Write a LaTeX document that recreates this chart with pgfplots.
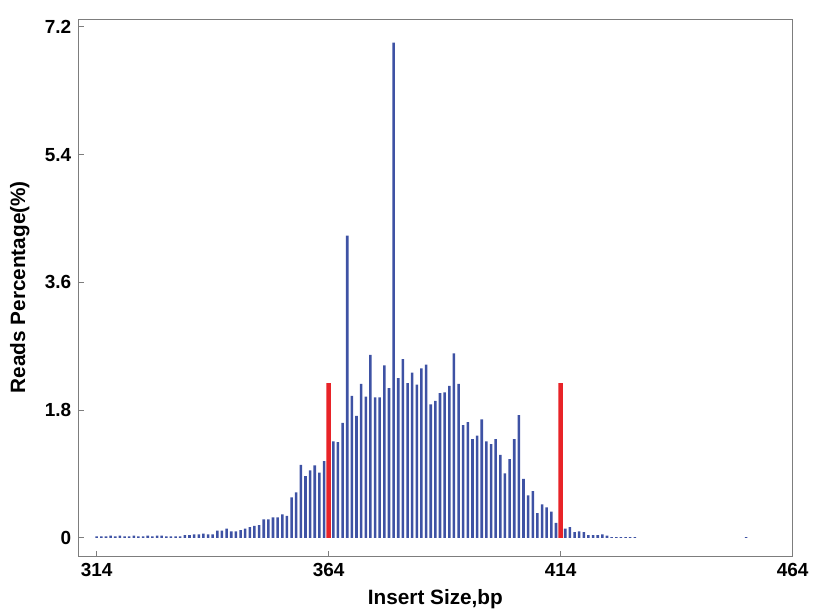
\documentclass[border=0pt]{standalone}
\usepackage{pgfplots}
\pgfplotsset{compat=1.18}
\usepackage{pgfplotstable}
\usepackage{fontspec}
\setmainfont{Liberation Sans}
\definecolor{barblue}{RGB}{62,82,164}
\definecolor{barred}{RGB}{232,35,40}
\definecolor{framegray}{RGB}{125,125,125}

% insert size (bp) vs reads percentage
\pgfplotstableread{
x y
314 0.02
315 0.02
316 0.02
317 0.03
318 0.02
319 0.03
320 0.02
321 0.02
322 0.03
323 0.02
324 0.02
325 0.03
326 0.02
327 0.03
328 0.03
329 0.02
330 0.02
331 0.02
332 0.02
333 0.04
334 0.04
335 0.05
336 0.05
337 0.06
338 0.05
339 0.05
340 0.10
341 0.10
342 0.13
343 0.09
344 0.09
345 0.11
346 0.13
347 0.15
348 0.17
349 0.18
350 0.26
351 0.26
352 0.29
353 0.29
354 0.33
355 0.31
356 0.57
357 0.64
358 1.03
359 0.87
360 0.95
361 1.02
362 0.92
363 1.08
365 1.36
366 1.35
367 1.62
368 4.26
369 2.00
370 1.72
371 2.17
372 1.99
373 2.58
374 1.98
375 1.98
376 2.43
377 2.11
378 6.98
379 2.25
380 2.52
381 2.18
382 2.33
383 2.16
384 2.39
385 2.44
386 1.88
387 1.93
388 2.04
389 2.05
390 2.14
391 2.60
392 2.17
393 1.59
394 1.63
395 1.39
396 1.44
397 1.67
398 1.36
399 1.32
400 1.39
401 1.17
402 0.91
403 1.11
404 1.39
405 1.73
406 0.83
407 0.60
408 0.66
409 0.35
410 0.47
411 0.43
412 0.37
413 0.21
415 0.13
416 0.15
417 0.08
418 0.09
419 0.08
420 0.04
421 0.04
422 0.04
423 0.05
424 0.03
425 0.01
426 0.01
427 0.01
428 0.01
429 0.01
430 0.01
454 0.01
}\reads

\begin{document}
\begin{tikzpicture}
\begin{axis}[
    scale only axis,
    width=358pt, height=269pt,
    xmin=310, xmax=464,
    ymin=-0.265, ymax=7.3,
    xtick={314,364,414,464},
    xticklabels={314,364,414,464},
    ytick={0,1.8,3.6,5.4,7.2},
    yticklabels={0,1.8,3.6,5.4,7.2},
    xtick pos=bottom, ytick pos=left,
    tick align=inside,
    major tick length=3pt,
    axis line style={framegray, line width=0.6pt},
    tick style={framegray, line width=0.5pt},
    ticklabel style={font=\fontsize{9.5}{11}\selectfont\bfseries},
    xlabel={Insert Size,bp},
    ylabel={Reads Percentage(\%)},
    label style={font=\fontsize{10.4}{12}\selectfont\bfseries},
    xlabel style={at={(axis description cs:0.5,-0.079)}, anchor=center},
    ylabel style={at={(axis description cs:-0.0817,0.502)}, anchor=center},
]
\addplot[ybar, bar shift=0pt, bar width=0.55, fill=barblue, draw=none] table[x=x, y=y] {\reads};
\addplot[ybar, bar shift=0pt, bar width=0.95, fill=barred, draw=none] coordinates {(364,2.18) (414,2.18)};
\coordinate (bbl) at (rel axis cs:-0.1094,-0.0996);
\coordinate (btr) at (rel axis cs:1.03,1.037);
\end{axis}
\pgfresetboundingbox
\useasboundingbox (bbl) rectangle (btr);
\end{tikzpicture}
\end{document}
